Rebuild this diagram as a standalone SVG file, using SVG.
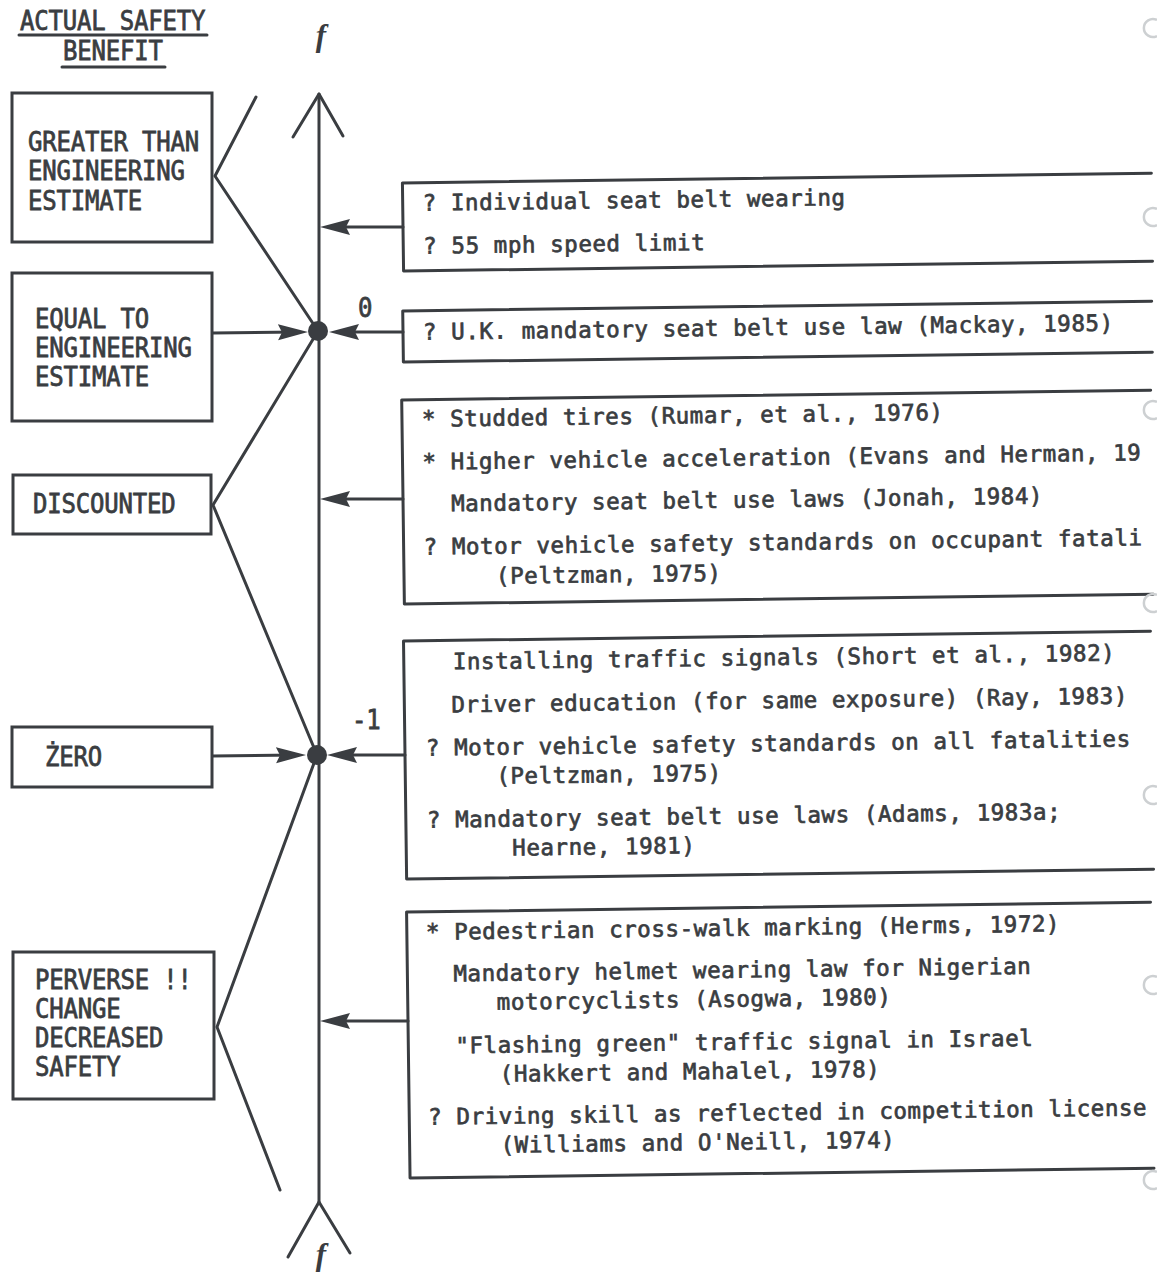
<svg xmlns="http://www.w3.org/2000/svg" width="1157" height="1272" viewBox="0 0 1157 1272">
  <defs>
    <style>
      .ink { stroke: #3a3d41; stroke-width: 3; fill: none; stroke-linecap: round; stroke-linejoin: round; }
      .box { stroke: #3a3d41; stroke-width: 3; fill: #ffffff; }
      .lb { font-family: "DejaVu Sans Mono", "Liberation Mono", monospace; font-size: 24px; letter-spacing: -0.2px; fill: #3a3d41; stroke: #3a3d41; stroke-width: 0.7px; }
      .rt { font-family: "DejaVu Sans Mono", "Liberation Mono", monospace; font-size: 22.5px; letter-spacing: 0.55px; fill: #3a3d41; stroke: #3a3d41; stroke-width: 0.7px; }
      .fn { font-family: "Liberation Serif", "DejaVu Serif", serif; font-style: italic; font-weight: bold; font-size: 31px; fill: #3a3d41; }
      .punch { stroke: #cdd0d2; stroke-width: 2.5; fill: none; }
    </style>
    <marker id="ah" markerUnits="userSpaceOnUse" markerWidth="32" markerHeight="18" viewBox="0 0 32 18" refX="20" refY="9" orient="auto">
      <path d="M0 1 L30 9 L0 17 L4 9 Z" fill="#3a3d41"/>
    </marker>
  </defs>

  <rect width="1157" height="1272" fill="#ffffff"/>

  <!-- heading -->
  <g id="heading">
    <text class="lb" transform="translate(20 30) scale(1 1.12)">ACTUAL SAFETY</text>
    <line class="ink" x1="19" y1="35" x2="207" y2="35" stroke-width="2.5"/>
    <text class="lb" transform="translate(63 60) scale(1 1.12)">BENEFIT</text>
    <line class="ink" x1="62" y1="67" x2="165" y2="67" stroke-width="2.5"/>
  </g>

  <!-- connectors: axis, fan lines, arrows -->
  <g id="connectors">
    <!-- vertical axis with arrow tip and fletching -->
    <line class="ink" x1="319" y1="94" x2="319" y2="1202"/>
    <polyline class="ink" points="293,137 319,94 343,136"/>
    <polyline class="ink" points="288,1257 319,1202 350,1253"/>

    <!-- zig-zag fan between the category boxes -->
    <polyline class="ink" points="256,97 215,176 318,331 213,505 317,755 217,1027 280,1190"/>

    <!-- arrows into the two nodes -->
    <line class="ink" x1="213" y1="333" x2="298" y2="332" marker-end="url(#ah)"/>
    <line class="ink" x1="403" y1="332" x2="339" y2="332" marker-end="url(#ah)"/>
    <line class="ink" x1="212" y1="756" x2="296" y2="755" marker-end="url(#ah)"/>
    <line class="ink" x1="405" y1="755" x2="337" y2="755" marker-end="url(#ah)"/>

    <!-- arrows from the evidence boxes onto the axis -->
    <line class="ink" x1="403" y1="227" x2="330" y2="227" marker-end="url(#ah)"/>
    <line class="ink" x1="403" y1="499" x2="330" y2="499" marker-end="url(#ah)"/>
    <line class="ink" x1="408" y1="1021" x2="330" y2="1021" marker-end="url(#ah)"/>

    <circle cx="318" cy="331" r="10" fill="#3a3d41"/>
    <circle cx="317" cy="755" r="10" fill="#3a3d41"/>
  </g>

  <!-- axis labels -->
  <g id="axis-labels">
    <text class="fn" x="321" y="46" text-anchor="middle">f</text>
    <text class="fn" x="321" y="1265" text-anchor="middle">f</text>
    <text class="lb" transform="translate(358 317) scale(1 1.1)">0</text>
    <text class="lb" transform="translate(352 729) scale(1 1.1)">-1</text>
  </g>

  <!-- category boxes -->
  <g id="greater">
    <rect class="box" x="12" y="93" width="200" height="149"/>
    <text class="lb" transform="translate(28 151) scale(1 1.12)">GREATER THAN</text>
    <text class="lb" transform="translate(28 180) scale(1 1.12)">ENGINEERING</text>
    <text class="lb" transform="translate(28 210) scale(1 1.12)">ESTIMATE</text>
  </g>

  <g id="equal">
    <rect class="box" x="12" y="273" width="200" height="148"/>
    <text class="lb" transform="translate(35 328) scale(1 1.12)">EQUAL TO</text>
    <text class="lb" transform="translate(35 357) scale(1 1.12)">ENGINEERING</text>
    <text class="lb" transform="translate(35 386) scale(1 1.12)">ESTIMATE</text>
  </g>

  <g id="discounted">
    <rect class="box" x="13" y="475" width="198" height="59"/>
    <text class="lb" transform="translate(33 513) scale(1 1.12)">DISCOUNTED</text>
  </g>

  <g id="zero">
    <rect class="box" x="12" y="727" width="200" height="60"/>
    <text class="lb" transform="translate(45 766) scale(1 1.12)">ŻERO</text>
  </g>

  <g id="perverse">
    <rect class="box" x="13" y="952" width="201" height="147"/>
    <text class="lb" transform="translate(35 989) scale(1 1.1)">PERVERSE !!</text>
    <text class="lb" transform="translate(35 1018) scale(1 1.1)">CHANGE</text>
    <text class="lb" transform="translate(35 1047) scale(1 1.1)">DECREASED</text>
    <text class="lb" transform="translate(35 1076) scale(1 1.1)">SAFETY</text>
  </g>

  <!-- evidence boxes (open on the right, page is slightly skewed) -->
  <g id="evidence-greater" transform="rotate(-0.75 403 227)">
    <path class="ink" d="M1152 183 H403 V271 H1152"/>
    <text class="rt" x="423" y="211">? Individual seat belt wearing</text>
    <text class="rt" x="423" y="254">? 55 mph speed limit</text>
  </g>

  <g id="evidence-equal" transform="rotate(-0.75 403 332)">
    <path class="ink" d="M1152 311 H403 V362 H1152"/>
    <text class="rt" x="423" y="340">? U.K. mandatory seat belt use law (Mackay, 1985)</text>
  </g>

  <g id="evidence-discounted" transform="rotate(-0.75 403 499)">
    <path class="ink" d="M1152 400 H403 V604 H1152"/>
    <text class="rt" x="423" y="427">* Studded tires (Rumar, et al., 1976)</text>
    <text class="rt" x="423" y="470">* Higher vehicle acceleration (Evans and Herman, 19</text>
    <text class="rt" x="451" y="512">Mandatory seat belt use laws (Jonah, 1984)</text>
    <text class="rt" x="423" y="555">? Motor vehicle safety standards on occupant fatali</text>
    <text class="rt" x="495" y="585">(Peltzman, 1975)</text>
  </g>

  <g id="evidence-zero" transform="rotate(-0.75 405 755)">
    <path class="ink" d="M1152 641 H405 V879 H1152"/>
    <text class="rt" x="454" y="670">Installing traffic signals (Short et al., 1982)</text>
    <text class="rt" x="452" y="713">Driver education (for same exposure) (Ray, 1983)</text>
    <text class="rt" x="426" y="756">? Motor vehicle safety standards on all fatalities</text>
    <text class="rt" x="496" y="785">(Peltzman, 1975)</text>
    <text class="rt" x="426" y="828">? Mandatory seat belt use laws (Adams, 1983a;</text>
    <text class="rt" x="511" y="857">Hearne, 1981)</text>
  </g>

  <g id="evidence-perverse" transform="rotate(-0.75 408 1021)">
    <path class="ink" d="M1152 912 H408 V1178 H1152"/>
    <text class="rt" x="427" y="940">* Pedestrian cross-walk marking (Herms, 1972)</text>
    <text class="rt" x="454" y="982">Mandatory helmet wearing law for Nigerian</text>
    <text class="rt" x="497" y="1011">motorcyclists (Asogwa, 1980)</text>
    <text class="rt" x="455" y="1054">"Flashing green" traffic signal in Israel</text>
    <text class="rt" x="499" y="1083">(Hakkert and Mahalel, 1978)</text>
    <text class="rt" x="427" y="1125">? Driving skill as reflected in competition license</text>
    <text class="rt" x="499" y="1154">(Williams and O'Neill, 1974)</text>
  </g>

  <!-- binder holes along the right margin -->
  <g id="holes">
    <path class="punch" d="M1157 20 A9 9 0 1 0 1157 36"/>
    <path class="punch" d="M1157 209 A9 9 0 1 0 1157 225"/>
    <path class="punch" d="M1157 402 A9 9 0 1 0 1157 418"/>
    <path class="punch" d="M1157 595 A9 9 0 1 0 1157 611"/>
    <path class="punch" d="M1157 787 A9 9 0 1 0 1157 803"/>
    <path class="punch" d="M1157 977 A9 9 0 1 0 1157 993"/>
    <path class="punch" d="M1157 1172 A9 9 0 1 0 1157 1188"/>
  </g>
</svg>
